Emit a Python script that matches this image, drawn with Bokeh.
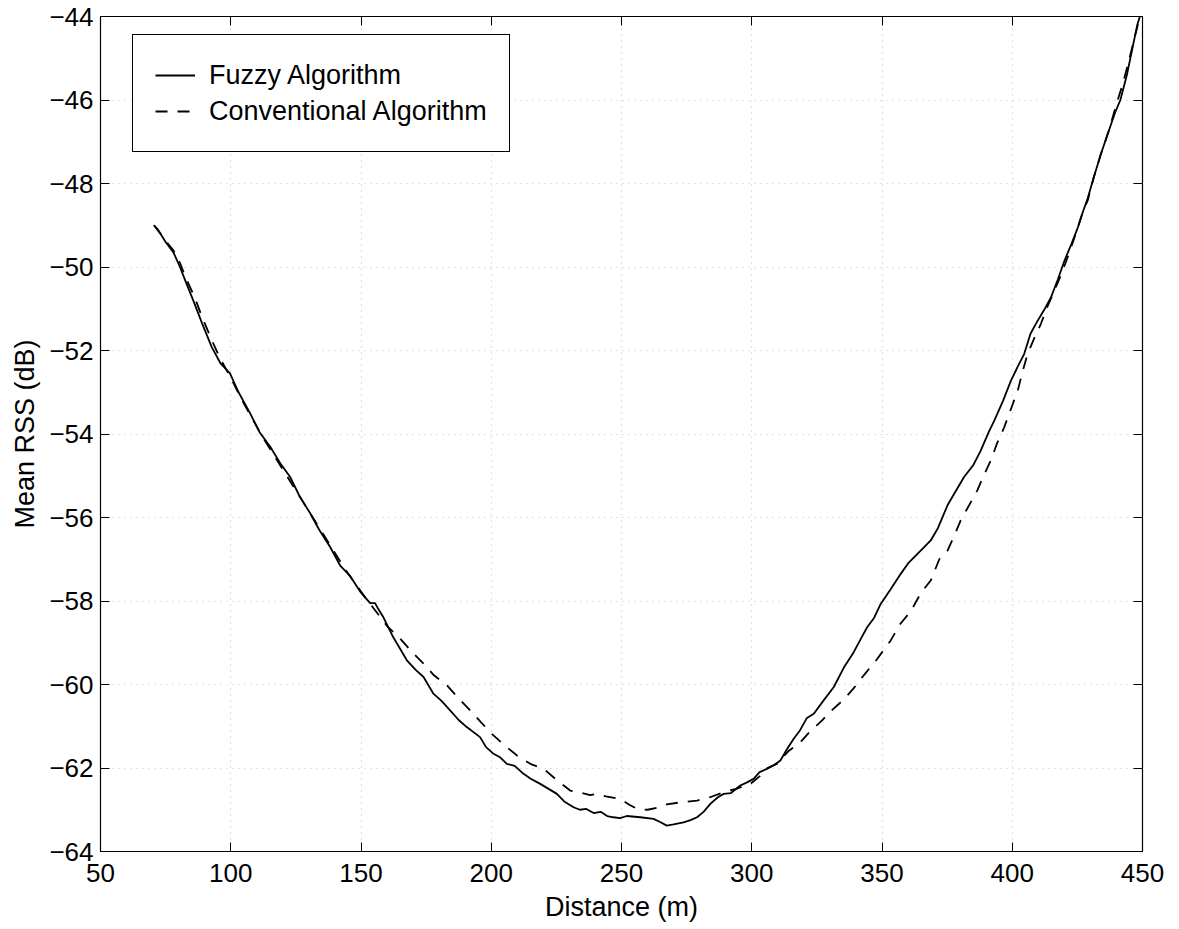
from bokeh.plotting import figure
from bokeh.models import Range1d, LinearAxis, FixedTicker, Legend, LegendItem, CustomJSTickFormatter
from bokeh.embed import file_html
from bokeh.resources import INLINE

fuzzy_x = [70.5, 72, 75, 78, 80.5, 83, 85.6, 89, 92.7, 96, 99.7, 103, 107.4, 111, 115.1, 119, 122.8,
           126.5, 130.5, 134, 138.1, 142, 145.8, 150, 153.5, 155.4, 156.7, 158.6, 162.4, 167.6, 171, 174,
           177.8, 181, 184.2, 187.5, 190.6, 195.7, 198, 200.9, 203.5, 206, 209, 212.4, 215, 218.8, 222,
           225.2, 228, 231.6, 234, 236.5, 239.3, 242, 244.5, 246.9, 249.5, 252, 257.2, 262.3, 265, 267.4,
           270, 273.8, 276.5, 279, 281.5, 284.1, 287, 289.2, 292, 295.6, 298, 300.7, 303, 305.8, 308, 311,
           313.5, 316.1, 318.5, 321.2, 323.8, 327.6, 331.5, 335.3, 339.2, 341.5, 344.3, 347, 349.5, 353,
           357.2, 360, 363.6, 366, 368.7, 371.5, 375.2, 378, 381.5, 385, 387.9, 391, 393.1, 396.5, 399.5,
           402, 404.6, 407, 409.8, 412.5, 414.9, 417.5, 420.1, 422.7, 425.2, 427, 429, 431.3, 434, 437,
           439.5, 441.5, 444, 446, 448, 449]
fuzzy_y = [-49.0, -49.1, -49.4, -49.65, -50.0, -50.4, -50.8, -51.35, -51.92, -52.3, -52.55, -53.0, -53.5,
           -53.95, -54.3, -54.7, -55.03, -55.5, -55.9, -56.3, -56.7, -57.15, -57.4, -57.8, -58.05, -58.05,
           -58.2, -58.39, -58.87, -59.42, -59.65, -59.82, -60.22, -60.4, -60.62, -60.85, -61.02, -61.26,
           -61.5, -61.66, -61.75, -61.9, -61.95, -62.14, -62.25, -62.38, -62.5, -62.62, -62.8, -62.94,
           -63.0, -62.98, -63.08, -63.05, -63.15, -63.18, -63.2, -63.15, -63.18, -63.22, -63.3, -63.38,
           -63.35, -63.3, -63.25, -63.18, -63.05, -62.86, -62.7, -62.62, -62.6, -62.42, -62.35, -62.26,
           -62.1, -62.02, -61.95, -61.82, -61.55, -61.3, -61.1, -60.8, -60.7, -60.38, -60.06, -59.6,
           -59.22, -58.95, -58.63, -58.4, -58.07, -57.75, -57.35, -57.1, -56.87, -56.72, -56.55, -56.25,
           -55.7, -55.4, -55.03, -54.75, -54.4, -53.95, -53.68, -53.2, -52.72, -52.4, -52.08, -51.6,
           -51.28, -51.0, -50.72, -50.3, -49.84, -49.45, -49.05, -48.7, -48.35, -47.85, -47.3, -46.75,
           -46.3, -46.0, -45.4, -44.8, -44.2, -44.0]

conv_x = [70.5, 73, 76, 78, 80.5, 83, 86, 89, 92.7, 96, 100, 104, 108, 112, 116, 120, 124, 128, 132, 136,
          140, 144, 148, 152, 156, 160, 165, 170, 174, 178, 183, 187, 191.9, 196, 200.2, 205, 209.9, 215,
          220.1, 225, 230.3, 235, 238, 240.6, 244, 249.5, 253, 256, 260, 264, 267.4, 273, 279, 284, 289.2,
          294, 299.5, 303, 306, 309.7, 314, 318.7, 322, 327, 331, 335.3, 339, 343, 348, 353.3, 357, 361,
          365, 368.7, 372, 375.2, 378, 380.2, 383.5, 386.6, 389, 391.8, 394, 396.9, 399.5, 402.1, 404,
          405.9, 408.5, 411, 413.5, 416.2, 419, 421.3, 423.3, 425.2, 427, 429, 431.3, 434, 437, 440,
          442.5, 445, 447, 449]
conv_y = [-49.0, -49.2, -49.45, -49.6, -49.9, -50.3, -50.7, -51.2, -51.75, -52.2, -52.65, -53.15, -53.6,
          -54.05, -54.45, -54.85, -55.25, -55.65, -56.05, -56.45, -56.85, -57.25, -57.6, -57.95, -58.27,
          -58.6, -58.9, -59.25, -59.5, -59.78, -60.02, -60.3, -60.62, -60.9, -61.18, -61.45, -61.7, -61.9,
          -62.02, -62.28, -62.54, -62.6, -62.65, -62.62, -62.68, -62.74, -62.88, -62.98, -63.0, -62.95,
          -62.87, -62.82, -62.78, -62.7, -62.58, -62.5, -62.38, -62.2, -62.0, -61.9, -61.6, -61.38,
          -61.15, -60.86, -60.6, -60.36, -60.1, -59.78, -59.4, -58.95, -58.55, -58.25, -57.8, -57.51,
          -57.0, -56.79, -56.4, -56.07, -55.7, -55.35, -55.0, -54.63, -54.25, -53.84, -53.4, -52.96,
          -52.5, -52.08, -51.7, -51.36, -50.95, -50.56, -50.15, -49.76, -49.4, -49.05, -48.7, -48.4,
          -47.85, -47.3, -46.75, -46.1, -45.6, -45.0, -44.5, -44.0]

x_ticks = [50, 100, 150, 200, 250, 300, 350, 400, 450]
y_ticks = [-64, -62, -60, -58, -56, -54, -52, -50, -48, -46, -44]
labels = ["Fuzzy Algorithm", "Conventional Algorithm"]
x_label = "Distance (m)"
y_label = "Mean RSS (dB)"

FONT = "Liberation Sans"

p = figure(width=1172, height=929, output_backend="svg", toolbar_location=None,
           x_range=Range1d(50, 450), y_range=Range1d(-64, -44),
           min_border_left=100, min_border_top=16, min_border_right=30, min_border_bottom=78)
p.background_fill_color = "white"
p.border_fill_color = "white"
p.outline_line_color = "black"
p.outline_line_width = 1.2

minus_fmt = CustomJSTickFormatter(code="return (tick < 0 ? '\\u2212' + Math.abs(tick) : '' + tick);")
blank_fmt = CustomJSTickFormatter(code="return '';")

for ax, ticks in ((p.xaxis[0], x_ticks), (p.yaxis[0], y_ticks)):
    ax.ticker = FixedTicker(ticks=ticks)
    ax.major_tick_in = 9
    ax.major_tick_out = 0
    ax.minor_tick_line_color = None
    ax.axis_line_color = "black"
    ax.major_tick_line_color = "black"
    ax.major_label_text_font = FONT
    ax.major_label_text_font_size = "26px"
    ax.major_label_text_color = "black"
    ax.axis_label_text_font = FONT
    ax.axis_label_text_font_size = "27px"
    ax.axis_label_text_font_style = "normal"
    ax.axis_label_text_color = "black"
p.yaxis[0].formatter = minus_fmt
p.xaxis[0].axis_label = x_label
p.yaxis[0].axis_label = y_label
p.xaxis[0].major_label_standoff = 12
p.xaxis[0].axis_label_standoff = 7
p.yaxis[0].major_label_standoff = 7
p.yaxis[0].axis_label_standoff = 6

for loc, ticks in (("above", x_ticks), ("right", y_ticks)):
    ax = LinearAxis(ticker=FixedTicker(ticks=ticks), major_tick_in=9, major_tick_out=0,
                    minor_tick_line_color=None, formatter=blank_fmt,
                    major_label_text_font_size="2px",
                    major_label_standoff=0, axis_line_color="black", major_tick_line_color="black")
    p.add_layout(ax, loc)

p.xgrid.ticker = FixedTicker(ticks=x_ticks)
p.ygrid.ticker = FixedTicker(ticks=y_ticks)
p.grid.grid_line_color = "#c4c4c4"
p.grid.grid_line_dash = "1 5"
p.grid.grid_line_width = 1.2

r1 = p.line(fuzzy_x, fuzzy_y, line_color="black", line_width=1.8)
r2 = p.line(conv_x, conv_y, line_color="black", line_width=1.8, line_dash="12 10")

legend = Legend(items=[LegendItem(label=labels[0], renderers=[r1]),
                       LegendItem(label=labels[1], renderers=[r2])],
                location=(32, 835 - 19 - 117))
legend.padding = 22
legend.spacing = 0
legend.label_height = 36
legend.glyph_height = 36
legend.glyph_width = 40
legend.label_standoff = 14
legend.margin = 0
legend.border_line_color = "black"
legend.border_line_alpha = 1.0
legend.border_line_width = 1.3
legend.background_fill_alpha = 1
legend.label_text_font = FONT
legend.label_text_font_size = "27px"
legend.label_text_color = "black"
p.add_layout(legend, "center")

open("out.html", "w").write(file_html(p, INLINE))
